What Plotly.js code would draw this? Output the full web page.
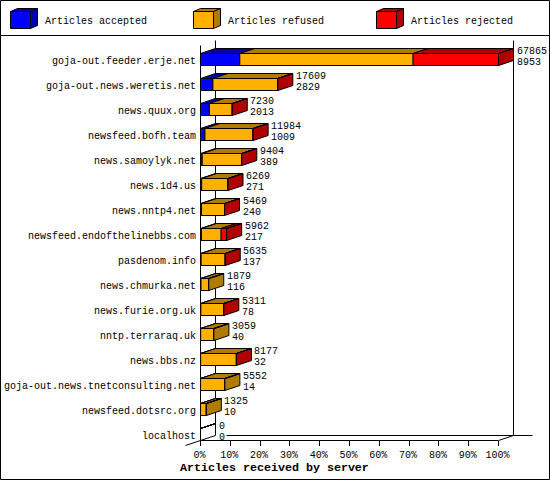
<!DOCTYPE html>
<html><head><meta charset="utf-8">
<script src="https://cdn.plot.ly/plotly-3.0.1.min.js"></script>
<style>html,body{margin:0;padding:0;background:#fff}#c{width:550px;height:480px}</style>
</head><body><div id="c"></div>
<script>
const servers = ["goja-out.feeder.erje.net","goja-out.news.weretis.net","news.quux.org","newsfeed.bofh.team","news.samoylyk.net","news.1d4.us","news.nntp4.net","newsfeed.endofthelinebbs.com","pasdenom.info","news.chmurka.net","news.furie.org.uk","nntp.terraraq.uk","news.bbs.nz","goja-out.news.tnetconsulting.net","newsfeed.dotsrc.org","localhost"];
const totals = [67865,17609,7230,11984,9404,6269,5469,5962,5635,1879,5311,3059,8177,5552,1325,0];
const accepted = [8953,2829,2013,1009,389,271,240,217,137,116,78,40,32,14,10,0];
const rejected = [19451,12,6,15,8,5,4,1262,3,0,2,0,9,0,0,0];
const seriesNames = ["Articles accepted","Articles refused","Articles rejected"];
const frontColors = ["#0000FF","#FFB000","#FF0000"];
const darkColors = ["#0000B0","#B07C00","#B00000"];
const xTicks = [0,10,20,30,40,50,60,70,80,90,100];
const xTitle = "Articles received by server";

const refused = totals.map((t,i)=>t-accepted[i]-rejected[i]);
const maxT = Math.max(...totals);
const pct = v => v/maxT*100;
const FONT = "'Liberation Mono', monospace";

// pixel geometry of the plot frame
const L=200,T=40,W=332,H=400,pxPerPct=2.98,rowPx=25;
const xr0=-0.5/pxPerPct, xr1=xr0+W/pxPerPct;
const row0px=59;                // centre of first row's front face
const yr0=(0-0.5-(row0px-T))/rowPx, yr1=yr0+H/rowPx;
const dx=15/pxPerPct, dy=5/rowPx, half=6/rowPx;
const xp=px=>(px+0.5-L)/W, yp=py=>1-(py+0.5-T)/H;

const series=[accepted,refused,rejected];
const rows=servers.map((_,i)=>i);
const traces=[];
series.forEach((vals,s)=>{
  const base=rows.map(i=>{let b=0;for(let k=0;k<s;k++)b+=series[k][i];return pct(b);});
  traces.push({type:"bar",orientation:"h",y:rows,x:vals.map(pct),base:base,width:half*2,
    marker:{color:frontColors[s],line:{color:"#000",width:1}},hoverinfo:"skip",showlegend:false});
});
// depth faces
series.forEach((vals,s)=>{
  const xs=[],ys=[];
  rows.forEach(i=>{
    let b=0;for(let k=0;k<s;k++)b+=series[k][i];
    const x0=pct(b),x1=pct(b+vals[i]),t=i-half;
    xs.push(x0,x1,x1+dx,x0+dx,x0,null);ys.push(t,t,t-dy,t-dy,t,null);
    const last=[2,1,0].find(k=>series[k][i]>0);
    if(last===s){const e=x1,bt=i+half;
      xs.push(e,e+dx,e+dx,e,e,null);ys.push(t,t-dy,bt-dy,bt,t,null);}
  });
  traces.push({type:"scatter",mode:"lines",x:xs,y:ys,fill:"toself",fillcolor:darkColors[s],
    line:{color:"#000",width:1},hoverinfo:"skip",showlegend:false,cliponaxis:false});
});

const frame=(a,b)=>({type:"line",layer:"below",xref:"paper",yref:"paper",x0:xp(a[0]),y0:yp(a[1]),x1:xp(b[0]),y1:yp(b[1]),line:{color:"#000",width:1}});
const shapes=[
 frame([0,0],[549,0]),frame([549,0],[549,479]),frame([549,479],[0,479]),frame([0,479],[0,0]),frame([0,35],[549,35]),
 frame([200,45],[200,440]),frame([215,40],[215,435]),frame([513,40],[513,435]),
 frame([200,440],[498,440]),frame([226,435],[532,435]),
 frame([185,445],[215,435]),frame([498,440],[513,435])
];
const cube=(x,c,d)=>{const f=[x,11,x+20,28];
 const p=(pts,col)=>({type:"path",xref:"paper",yref:"paper",fillcolor:col,line:{color:"#000",width:1},
   path:"M"+pts.map(q=>xp(q[0])+","+yp(q[1])).join("L")+"Z"});
 return [p([[f[0],f[1]],[f[2],f[1]],[f[2],f[3]],[f[0],f[3]]],c),
         p([[f[0],f[1]],[f[0]+7,f[1]-3],[f[2]+7,f[1]-3],[f[2],f[1]]],d),
         p([[f[2],f[1]],[f[2]+7,f[1]-3],[f[2]+7,f[3]-3],[f[2],f[3]]],d)];};
[10,193,376].forEach((x,i)=>shapes.push(...cube(x,frontColors[i],darkColors[i])));

const ann=[];
rows.forEach(i=>{
  const ex=pct(totals[i])+dx;
  [[totals[i],-8],[accepted[i],3]].forEach(([v,off])=>{
    ann.push({x:ex,y:i,text:String(v),showarrow:false,xanchor:"left",yanchor:"middle",xshift:1,yshift:-off,
      font:{family:FONT,size:10,color:"#000"}});
  });
});
[42,225,408].forEach((x,i)=>ann.push({xref:"paper",yref:"paper",x:xp(x),y:yp(21),text:seriesNames[i],showarrow:false,
  xanchor:"left",yanchor:"middle",font:{family:FONT,size:10,color:"#000"}}));
ann.push({xref:"paper",yref:"paper",x:xp(274),y:yp(467),text:"<b>"+xTitle+"</b>",showarrow:false,xanchor:"center",yanchor:"middle",
  font:{family:"'Liberation Mono', monospace",size:11.67,color:"#000"}});

Plotly.newPlot("c",traces,{
  width:550,height:480,autosize:false,paper_bgcolor:"#fff",plot_bgcolor:"rgba(0,0,0,0)",
  margin:{l:L,r:550-L-W,t:T,b:480-T-H,pad:0},barmode:"overlay",showlegend:false,
  xaxis:{range:[xr0,xr1],tickmode:"array",tickvals:xTicks,ticktext:xTicks.map(v=>v+"%"),ticks:"outside",ticklen:5,tickwidth:1,tickcolor:"#000",ticklabelshift:-1,
    showgrid:false,zeroline:false,showline:false,tickangle:0,tickfont:{family:FONT,size:10,color:"#000"}},
  yaxis:{range:[yr1,yr0],tickmode:"array",tickvals:rows,ticktext:servers,ticks:"outside",ticklen:1,tickcolor:"rgba(0,0,0,0)",ticklabelshift:-1,
    showgrid:false,zeroline:false,showline:false,tickfont:{family:FONT,size:10,color:"#000"}},
  shapes:shapes,annotations:ann
},{displayModeBar:false,staticPlot:true});
</script></body></html>
